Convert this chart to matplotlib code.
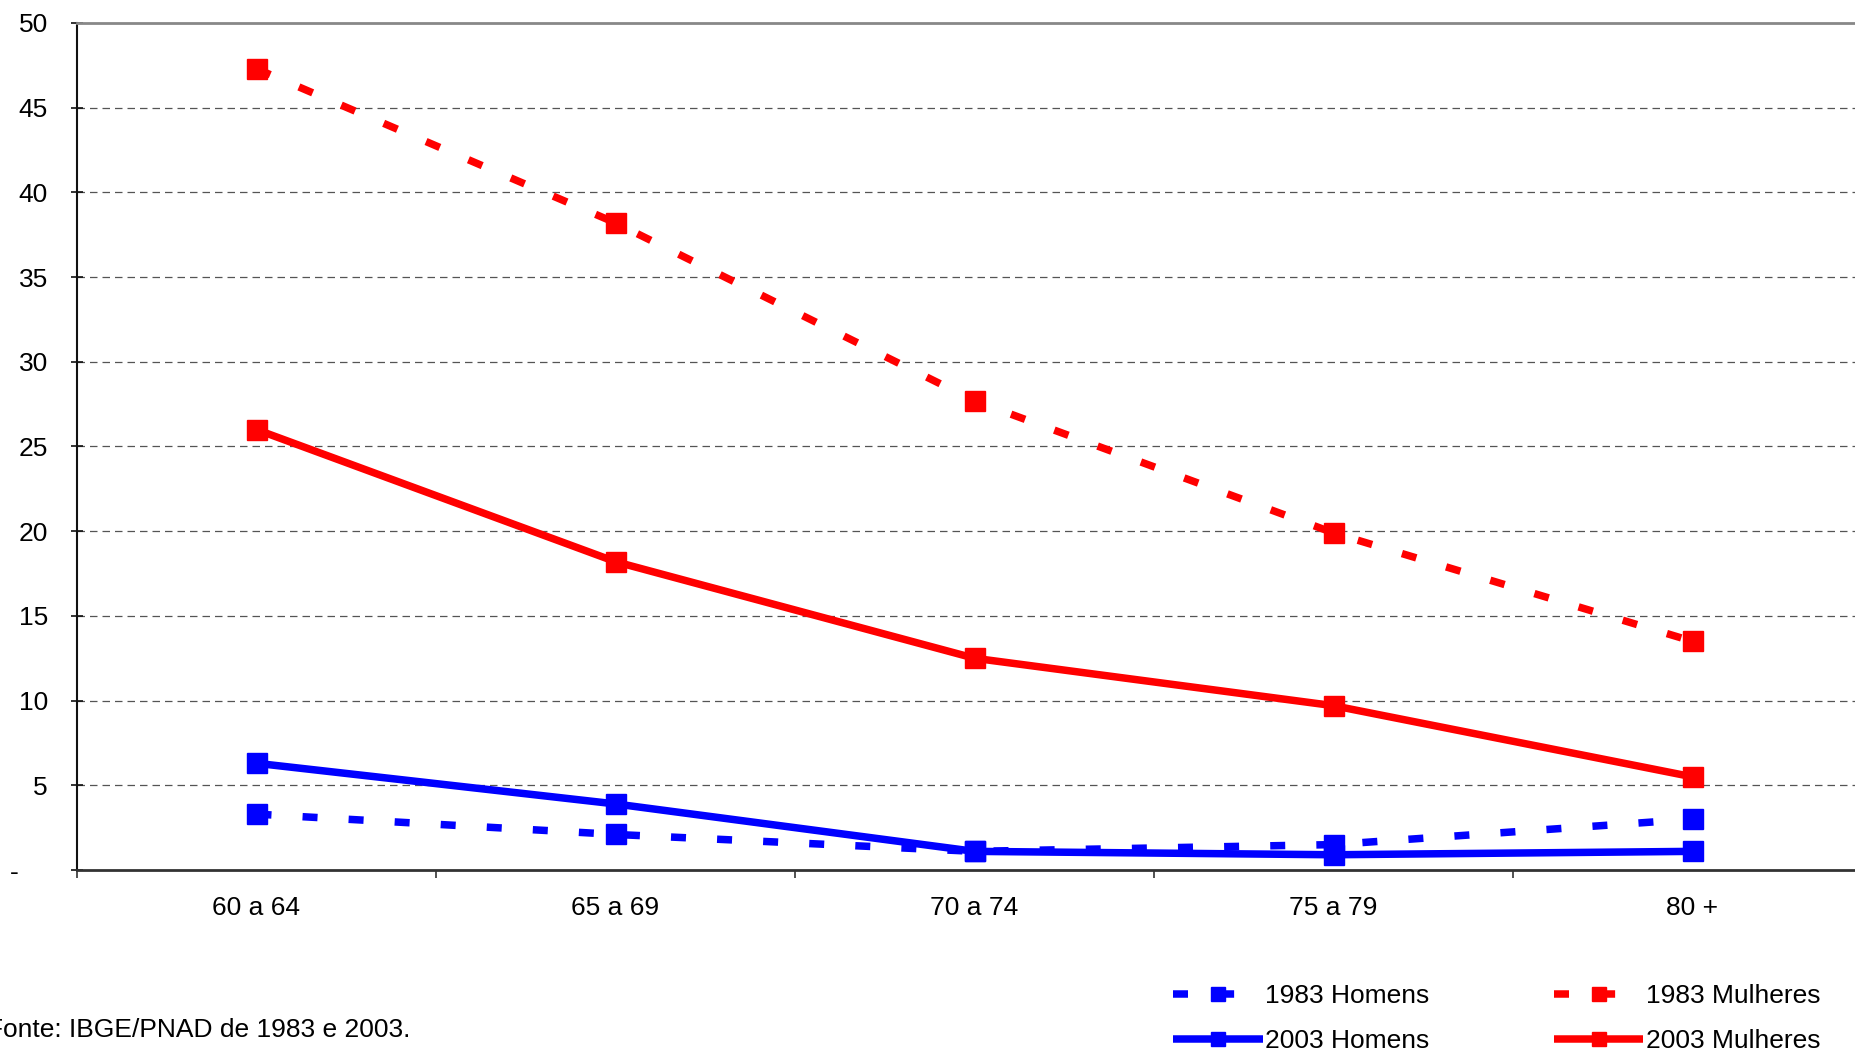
import matplotlib
matplotlib.use("Agg")
import matplotlib.pyplot as plt
import numpy as np

categories = ["60 a 64", "65 a 69", "70 a 74", "75 a 79", "80 +"]
homens_1983 = [3.3, 2.1, 1.1, 1.5, 3.0]
mulheres_1983 = [47.3, 38.2, 27.7, 19.9, 13.5]
homens_2003 = [6.3, 3.9, 1.1, 0.9, 1.1]
mulheres_2003 = [26.0, 18.2, 12.5, 9.7, 5.5]
yticks = [0, 5, 10, 15, 20, 25, 30, 35, 40, 45, 50]
ytick_labels = ["-    ", "5", "10", "15", "20", "25", "30", "35", "40", "45", "50"]
source = "Fonte: IBGE/PNAD de 1983 e 2003."

plt.rcParams['font.family'] = ['Liberation Sans', 'DejaVu Sans']

W, H = 1856, 1057
FS = 19
fig = plt.figure(figsize=(W / 100, H / 100), dpi=100)
ax = fig.add_axes([77 / W, (H - 870) / H, 1795 / W, (870 - 23) / H])

x = np.arange(len(categories))
lw = 5.4
dash = (2.0, 4.15)
ms = 15

l1, = ax.plot(x, homens_1983, color='#0000FF', lw=lw, dashes=dash, dash_capstyle='butt',
              marker='s', ms=ms, mec='#0000FF', label='1983 Homens', zorder=3)
l2, = ax.plot(x, mulheres_1983, color='#FF0000', lw=lw, dashes=dash, dash_capstyle='butt',
              marker='s', ms=ms, mec='#FF0000', label='1983 Mulheres', zorder=3)
l3, = ax.plot(x, homens_2003, color='#0000FF', lw=lw, solid_capstyle='butt',
              marker='s', ms=ms, mec='#0000FF', label='2003 Homens', zorder=4)
l4, = ax.plot(x, mulheres_2003, color='#FF0000', lw=lw, solid_capstyle='butt',
              marker='s', ms=ms, mec='#FF0000', label='2003 Mulheres', zorder=4)

ax.set_xlim(-0.5, len(categories) - 0.5)
ax.set_ylim(0, 50)

# x ticks at category boundaries, labels at centers
ax.set_xticks(np.arange(-0.5, len(categories) - 0.4, 1.0))
ax.set_xticklabels([])
ax.set_xticks(x, minor=True)
ax.set_xticklabels(categories, minor=True, fontsize=FS)
ax.tick_params(axis='x', which='major', direction='out', length=6, width=1.2, color='#333333')
ax.tick_params(axis='x', which='minor', length=0, pad=19)

ax.set_yticks(yticks)
ax.set_yticklabels(ytick_labels, fontsize=FS)
ax.tick_params(axis='y', direction='inout', length=8, width=1.2, color='#111111', pad=17)

for yv in yticks[1:-1]:
    ax.axhline(yv, color='#555555', lw=0.9, dashes=(6, 4), zorder=1)

ax.spines['top'].set_color('#888888')
ax.spines['top'].set_linewidth(2)
ax.spines['right'].set_visible(False)
ax.spines['left'].set_color('#111111')
ax.spines['left'].set_linewidth(1.5)
ax.spines['bottom'].set_color('#333333')
ax.spines['bottom'].set_linewidth(2)

fig.legend(handles=[l1, l3, l2, l4], ncol=2, loc='upper left',
           bbox_to_anchor=(1173 / W, 1 - 984 / H), frameon=False, fontsize=FS,
           handlelength=3.4, handletextpad=0.1, columnspacing=4.7,
           labelspacing=0.8, borderpad=0, borderaxespad=0, markerscale=0.65)

fig.text(-13 / W, 1 - 1030 / H, source, fontsize=FS, ha='left', va='center')

fig.savefig("out.png", dpi=100)
